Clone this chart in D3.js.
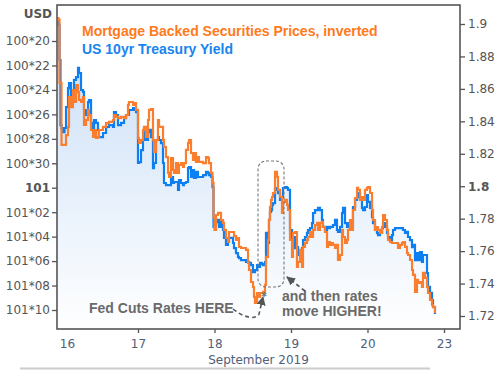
<!DOCTYPE html>
<html>
<head>
<meta charset="utf-8">
<script src="https://cdn.jsdelivr.net/npm/d3@7"></script>
<style>
html,body{margin:0;padding:0;background:#fff;}
svg{display:block;}
</style>
</head>
<body>
<svg id="chart" width="499" height="370"></svg>
<script>
// Time: trading-day index (0 = Sep 16, 1 = Sep 17, 2 = Sep 18, 3 = Sep 19, 4 = Sep 20, 5 = Sep 23)
const times = [-0.052,-0.039,-0.026,-0.013,0.000,0.020,0.039,0.059,0.085,0.098,0.124,0.150,0.163,0.190,0.216,0.229,0.255,0.281,0.294,0.320,
0.346,0.359,0.386,0.412,0.425,0.451,0.477,0.490,0.542,0.582,0.621,0.673,0.686,0.712,0.739,0.778,0.817,0.843,0.869,0.882,
0.935,0.948,0.974,1.000,1.013,1.039,1.065,1.078,1.105,1.131,1.144,1.170,1.196,1.209,1.235,1.261,1.275,1.301,1.327,1.340,
1.366,1.392,1.405,1.431,1.458,1.471,1.497,1.523,1.536,1.562,1.588,1.601,1.627,1.654,1.667,1.693,1.719,1.732,1.758,1.784,
1.797,1.850,1.889,1.915,1.928,1.954,1.974,1.987,2.000,2.020,2.046,2.059,2.085,2.111,2.124,2.150,2.176,2.190,2.242,2.255,
2.281,2.307,2.320,2.346,2.373,2.412,2.438,2.451,2.477,2.503,2.516,2.529,2.556,2.569,2.595,2.621,2.634,2.660,2.673,2.699,
2.712,2.725,2.739,2.752,2.765,2.791,2.817,2.830,2.856,2.882,2.895,2.922,2.948,2.961,2.987,3.013,3.026,3.052,3.078,3.092,
3.118,3.144,3.157,3.183,3.209,3.222,3.248,3.275,3.288,3.314,3.340,3.353,3.379,3.405,3.418,3.444,3.471,3.484,3.510,3.536,
3.549,3.575,3.601,3.614,3.641,3.667,3.680,3.706,3.732,3.745,3.771,3.797,3.810,3.837,3.863,3.876,3.902,3.928,3.941,3.967,
3.993,4.007,4.033,4.059,4.072,4.098,4.124,4.137,4.163,4.190,4.203,4.229,4.255,4.268,4.294,4.320,4.333,4.359,4.399,4.425,
4.451,4.464,4.490,4.516,4.529,4.556,4.582,4.595,4.621,4.647,4.660,4.686,4.712,4.725,4.752,4.778,4.791,4.817,4.843,4.856,4.882];

// US 10yr Treasury Yield (%), right axis
const yieldValues = [1.9012,1.8994,1.8778,1.8377,1.8359,1.8334,1.8359,1.8488,1.8605,1.8636,1.8550,1.8575,1.8655,1.8673,1.8729,1.8698,1.8593,1.8581,1.8470,1.8439,
1.8519,1.8531,1.8390,1.8347,1.8408,1.8390,1.8347,1.8303,1.8328,1.8365,1.8377,1.8365,1.8457,1.8439,1.8377,1.8390,1.8420,1.8439,1.8439,1.8470,
1.8482,1.8470,1.8457,1.8143,1.8149,1.8223,1.8285,1.8347,1.8285,1.8334,1.8347,1.8303,1.8112,1.8143,1.8285,1.8303,1.8285,1.8266,1.8143,1.8020,
1.8007,1.8007,1.8007,1.8057,1.8020,1.8026,1.8026,1.7977,1.8038,1.8020,1.8007,1.8020,1.8026,1.8112,1.8118,1.8057,1.8100,1.8051,1.8088,1.8057,
1.8057,1.8069,1.8088,1.8081,1.8069,1.8057,1.7995,1.7749,1.7761,1.7779,1.7792,1.7749,1.7779,1.7730,1.7681,1.7638,1.7668,1.7681,1.7650,1.7619,
1.7588,1.7564,1.7557,1.7545,1.7545,1.7533,1.7533,1.7527,1.7514,1.7471,1.7471,1.7483,1.7514,1.7502,1.7527,1.7520,1.7514,1.7533,1.7712,1.7650,
1.7792,1.7841,1.7853,1.7884,1.7896,1.7989,1.7977,1.7958,1.7915,1.7933,1.7989,1.7995,1.7989,1.7977,1.7730,1.7668,1.7687,1.7619,1.7625,1.7576,
1.7607,1.7619,1.7668,1.7687,1.7712,1.7730,1.7742,1.7773,1.7835,1.7853,1.7853,1.7866,1.7853,1.7792,1.7749,1.7730,1.7749,1.7742,1.7749,1.7749,
1.7761,1.7792,1.7730,1.7718,1.7749,1.7835,1.7866,1.7773,1.7749,1.7773,1.7730,1.7749,1.7872,1.7915,1.7933,1.7958,1.7927,1.7866,1.7853,1.7872,
1.7946,1.7903,1.7866,1.7810,1.7773,1.7730,1.7712,1.7699,1.7712,1.7742,1.7773,1.7749,1.7712,1.7687,1.7668,1.7699,1.7730,1.7742,1.7742,1.7742,
1.7742,1.7730,1.7712,1.7718,1.7687,1.7668,1.7625,1.7638,1.7545,1.7588,1.7545,1.7594,1.7533,1.7576,1.7576,1.7465,1.7379,1.7342,1.7298,1.7255,1.7212];

// Mortgage Backed Securities price, in 32nds above 100 (left axis, inverted)
const mbsPrice32 = [18.12,18.28,23.43,23.43,28.50,28.50,28.50,27.69,27.03,24.58,25.40,24.01,24.99,23.60,24.17,24.82,24.99,24.58,26.87,26.46,
25.64,26.05,27.28,27.85,27.28,27.93,27.85,27.28,27.03,26.71,26.62,26.46,26.05,26.21,26.30,26.21,26.30,26.05,25.23,24.99,
25.23,25.07,25.64,27.93,28.34,28.10,27.28,27.03,27.85,26.46,25.64,25.56,28.10,29.08,28.10,26.46,27.03,27.03,28.10,28.67,
29.49,30.79,31.12,29.57,30.55,30.79,29.98,30.79,30.14,29.98,30.30,29.98,28.91,28.34,28.10,29.16,29.73,29.16,29.89,29.49,
29.89,29.98,29.49,29.57,29.98,30.79,31.61,34.39,35.45,34.23,34.06,34.06,34.64,34.88,35.45,36.11,36.44,35.62,35.62,35.95,
36.27,36.11,36.84,36.93,36.93,37.09,38.15,38.73,39.71,40.12,40.93,41.42,40.61,40.93,40.61,40.61,40.52,39.95,37.66,36.27,
34.64,33.57,33.00,32.76,32.43,30.71,31.12,32.18,32.76,34.06,33.16,33.00,33.41,33.82,36.27,37.66,35.70,35.62,38.48,38.07,
37.09,38.48,36.84,36.52,36.27,36.03,35.62,36.03,35.45,35.05,34.88,35.45,34.88,34.80,35.21,35.62,36.84,36.44,36.68,36.52,
36.68,36.93,36.68,37.91,37.50,35.45,36.03,36.52,36.27,35.45,34.64,35.45,33.82,32.84,32.02,32.18,33.00,32.76,33.00,32.18,
32.02,31.94,32.43,33.82,34.64,35.45,35.21,35.45,35.70,35.21,34.23,34.64,35.45,36.27,36.44,36.52,36.52,36.52,36.93,36.68,
36.52,36.44,36.84,37.34,37.50,37.91,38.73,39.13,40.52,39.54,39.79,39.71,40.12,38.97,39.38,40.12,40.61,41.18,41.59,41.75,42.24];

const dayTicks = [0,1,2,3,4,5];
const dayLabels = ["16","17","18","19","20","23"];
const priceTicks = [20,22,24,26,28,30,32,34,36,38,40,42];
const priceLabels = ["100*20","100*22","100*24","100*26","100*28","100*30","101","101*02","101*04","101*06","101*08","101*10"];
const yieldTicks = [1.72,1.74,1.76,1.78,1.80,1.82,1.84,1.86,1.88,1.90];
const yieldLabels = ["1.72","1.74","1.76","1.78","1.8","1.82","1.84","1.86","1.88","1.9"];

const ORANGE = "#fb7d2e", BLUE = "#0c7ff2";
const svg = d3.select("#chart");
const L = 57, R = 460, T = 5, B = 329;

const x = d3.scaleLinear().domain([0,5]).range([61.5,444]);
const yR = d3.scaleLinear().domain([1.72,1.90]).range([316,24]);
const yL = d3.scaleLinear().domain([20,42]).range([41,310]);

const defs = svg.append("defs");
const grad = defs.append("linearGradient").attr("id","fillGrad").attr("x1",0).attr("y1",0).attr("x2",0).attr("y2",1)
  .attr("gradientUnits","userSpaceOnUse").attr("x1",0).attr("y1",T).attr("x2",0).attr("y2",B);
grad.append("stop").attr("offset","0%").attr("stop-color","#c4dbf6");
grad.append("stop").attr("offset","100%").attr("stop-color","#ffffff");
defs.append("clipPath").attr("id","plotClip").append("rect").attr("x",L).attr("y",T).attr("width",R-L).attr("height",B-T);
const mk = defs.append("marker").attr("id","arrow").attr("viewBox","0 0 10 10").attr("refX",9).attr("refY",5)
  .attr("markerWidth",9).attr("markerHeight",9).attr("markerUnits","userSpaceOnUse").attr("orient","auto");
mk.append("path").attr("d","M0,0 L10,5 L0,10 Z").attr("fill","#555");

const blueData = times.map((t,i)=>({t, v: yieldValues[i]}));
const orangeData = times.map((t,i)=>({t, v: mbsPrice32[i]}));

const plot = svg.append("g").attr("clip-path","url(#plotClip)");
plot.append("path").datum(blueData)
  .attr("d", d3.area().curve(d3.curveStepAfter).x(d=>x(d.t)).y0(B).y1(d=>yR(d.v)))
  .attr("fill","url(#fillGrad)");
plot.append("path").datum(blueData)
  .attr("d", d3.line().curve(d3.curveStepAfter).x(d=>x(d.t)).y(d=>yR(d.v)))
  .attr("fill","none").attr("stroke",BLUE).attr("stroke-width",2.2);
plot.append("path").datum(orangeData)
  .attr("d", d3.line().curve(d3.curveStepAfter).x(d=>x(d.t)).y(d=>yL(d.v)))
  .attr("fill","none").attr("stroke",ORANGE).attr("stroke-width",2.2);

// frame
svg.append("rect").attr("x",L).attr("y",T).attr("width",R-L).attr("height",B-T)
  .attr("fill","none").attr("stroke","#555").attr("stroke-width",1.6);

// axes
const tickFont = "DejaVu Sans, Verdana, sans-serif";
const gL = svg.append("g").attr("transform",`translate(${L},0)`)
  .call(d3.axisLeft(yL).tickValues(priceTicks).tickSize(5).tickPadding(2).tickFormat((d,i)=>priceLabels[i]));
const gR = svg.append("g").attr("transform",`translate(${R},0)`)
  .call(d3.axisRight(yR).tickValues(yieldTicks).tickSize(5).tickPadding(3).tickFormat((d,i)=>yieldLabels[i]));
const gB = svg.append("g").attr("transform",`translate(0,${B})`)
  .call(d3.axisBottom(x).tickValues(dayTicks).tickSize(4).tickPadding(6).tickFormat((d,i)=>dayLabels[i]));
[gL,gR,gB].forEach(g=>{
  g.select(".domain").remove();
  g.selectAll(".tick line").attr("stroke","#555").attr("stroke-width",1.3);
  g.selectAll(".tick text").attr("font-family",tickFont).attr("font-size",12);
});
gL.selectAll(".tick text").attr("fill","#555").attr("font-weight",(d)=>d===32?"bold":"normal");
gR.selectAll(".tick text").attr("fill","#555").attr("font-weight",(d)=>Math.abs(d-1.8)<1e-9?"bold":"normal");
gB.selectAll(".tick text").attr("fill","#50607a");
gB.selectAll(".tick").filter(d=>d===0).select("line").remove();
gB.selectAll(".tick").filter(d=>d===0).select("text").attr("x",5.5);

svg.append("text").attr("x",52).attr("y",18).attr("text-anchor","end")
  .attr("font-family",tickFont).attr("font-size",12).attr("font-weight","bold").attr("fill","#555").text("USD");
svg.append("text").attr("x",258.5).attr("y",364).attr("text-anchor","middle")
  .attr("font-family",tickFont).attr("font-size",12).attr("fill","#50607a").text("September 2019");
svg.append("line").attr("x1",20).attr("x2",430).attr("y1",368.5).attr("y2",368.5).attr("stroke","#cccccc").attr("stroke-width",2);

// legend
const boldFont = "Liberation Sans, Arial, sans-serif";
svg.append("text").attr("x",82).attr("y",36).attr("font-family",boldFont).attr("font-size",14).attr("font-weight","bold")
  .attr("fill","#ff7a1c").text("Mortgage Backed Securities Prices, inverted");
svg.append("text").attr("x",82).attr("y",54).attr("font-family",boldFont).attr("font-size",14).attr("font-weight","bold")
  .attr("fill","#1784ef").text("US 10yr Treasury Yield");

// annotations
const annoCol = "#6a6a6a";
svg.append("rect").attr("x",258).attr("y",161).attr("width",26).attr("height",126).attr("rx",8).attr("ry",8)
  .attr("fill","none").attr("stroke","#777").attr("stroke-width",1.1).attr("stroke-dasharray","3,2");
svg.append("text").attr("x",89).attr("y",312.5).attr("font-family",boldFont).attr("font-size",14).attr("font-weight","bold")
  .attr("fill",annoCol).text("Fed Cuts Rates HERE");
svg.append("text").attr("x",282).attr("y",300.5).attr("font-family",boldFont).attr("font-size",14).attr("font-weight","bold")
  .attr("fill",annoCol).text("and then rates");
svg.append("text").attr("x",282).attr("y",316).attr("font-family",boldFont).attr("font-size",14).attr("font-weight","bold")
  .attr("fill",annoCol).text("move HIGHER!");
svg.append("path").attr("d","M233,309 C244,318 256,320 259,314 L263,297")
  .attr("fill","none").attr("stroke","#555").attr("stroke-width",1.6).attr("stroke-dasharray","4,3").attr("marker-end","url(#arrow)");
svg.append("path").attr("d","M305,291 L287,277")
  .attr("fill","none").attr("stroke","#555").attr("stroke-width",1.6).attr("stroke-dasharray","4,3").attr("marker-end","url(#arrow)");
svg.append("text").attr("x",264).attr("y",300).attr("text-anchor","middle").attr("font-family",tickFont).attr("font-size",10)
  .attr("font-weight","bold").attr("fill","#666").text("*");
</script>
</body>
</html>
